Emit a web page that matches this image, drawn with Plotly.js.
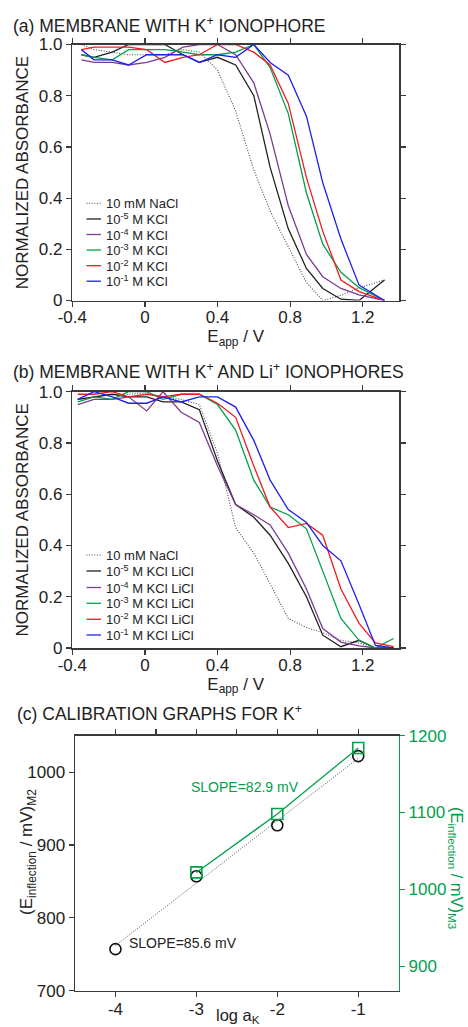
<!DOCTYPE html>
<html><head><meta charset="utf-8">
<script src="https://cdn.plot.ly/plotly-3.0.1.min.js"></script>
<style>html,body{margin:0;padding:0;background:#fff}#chart{width:468px;height:1027px}</style>
</head><body><div id="chart"></div>
<script>
// ---------- data: panel (a) membrane with K+ ionophore ----------
const potentialA = [-0.35,-0.28,-0.18,-0.09,0.01,0.11,0.21,0.30,0.40,0.50,0.60,0.69,0.79,0.89,0.98,1.08,1.18,1.32];
const aNaCl = [1.00,0.98,0.97,0.96,0.96,0.96,0.98,0.97,0.90,0.74,0.51,0.35,0.21,0.07,0.00,0.02,0.05,0.08];
const aK5   = [0.96,0.95,0.97,1.00,1.00,1.00,0.96,0.93,0.95,0.92,0.80,0.52,0.28,0.125,0.047,0.005,0.00,0.08];
const aK4   = [0.94,0.93,0.93,0.92,0.93,0.95,0.99,1.00,1.00,0.96,0.85,0.65,0.37,0.18,0.093,0.047,0.022,0.00];
const aK3   = [0.96,0.95,0.94,0.98,0.98,0.98,0.97,0.96,0.96,0.97,1.00,0.91,0.73,0.42,0.22,0.11,0.05,0.00];
const aK2   = [0.98,0.99,0.99,0.99,0.98,0.93,0.95,0.96,1.00,1.00,0.97,0.92,0.77,0.48,0.27,0.08,0.035,0.00];
const aK1   = [0.98,0.94,0.94,0.92,0.96,0.96,0.96,0.93,0.96,0.95,1.00,0.93,0.88,0.72,0.46,0.24,0.06,0.00];
const legendA = ['10 mM NaCl','10<sup>-5</sup> M KCl','10<sup>-4</sup> M KCl','10<sup>-3</sup> M KCl','10<sup>-2</sup> M KCl','10<sup>-1</sup> M KCl'];

// ---------- data: panel (b) membrane with K+ and Li+ ionophores ----------
const potentialB = [-0.37,-0.28,-0.18,-0.09,0.01,0.10,0.20,0.30,0.40,0.50,0.60,0.69,0.79,0.89,0.98,1.08,1.18,1.27,1.37];
const bNaCl = [0.97,0.98,0.99,0.99,0.995,0.98,0.97,0.95,0.76,0.47,0.37,0.25,0.115,0.08,0.06,0.03,0.02,0.00,0.00];
const bK5   = [0.97,0.98,0.99,0.98,0.98,0.96,0.96,0.93,0.73,0.56,0.51,0.44,0.33,0.20,0.05,0.005,0.03,0.00,0.00];
const bK4   = [0.95,0.97,0.97,0.98,0.925,1.00,0.92,0.88,0.71,0.56,0.52,0.48,0.37,0.23,0.076,0.023,0.008,0.00,0.00];
const bK3   = [0.96,0.98,0.97,1.00,1.00,0.97,0.99,0.99,0.95,0.85,0.655,0.55,0.52,0.465,0.30,0.115,0.03,0.00,0.037];
const bK2   = [0.99,0.99,1.00,0.98,0.99,0.98,0.99,0.99,0.955,0.90,0.71,0.55,0.47,0.486,0.44,0.23,0.096,0.02,0.005];
const bK1   = [0.97,1.00,0.98,0.955,0.955,0.98,0.96,0.98,0.98,0.94,0.81,0.655,0.54,0.49,0.40,0.34,0.17,0.01,0.00];
const legendB = ['10 mM NaCl','10<sup>-5</sup> M KCl LiCl','10<sup>-4</sup> M KCl LiCl','10<sup>-3</sup> M KCl LiCl','10<sup>-2</sup> M KCl LiCl','10<sup>-1</sup> M KCl LiCl'];

// ---------- data: panel (c) calibration graphs ----------
const logAK = [-4,-3,-2,-1];
const eInflM2 = [757,857,927,1022];
const logAKM3 = [-3,-2,-1];
const eInflM3 = [1022,1098,1184];
const fitM2X = [-4,-1];
const fitM2Y = [762,1019];

// ---------- tick labels ----------
const tickValsE = [-0.4,0,0.4,0.8,1.2];
const tickTextE = ['-0.4','0','0.4','0.8','1.2'];
const tickValsAbs = [0,0.2,0.4,0.6,0.8,1.0];
const tickTextAbs = ['0','0.2','0.4','0.6','0.8','1.0'];
const tickValsLog = [-4,-3,-2,-1];
const tickTextLog = ['-4','-3','-2','-1'];
const tickValsTop = [-4,-3.5,-3,-2.5,-2,-1.5,-1];
const tickValsM2 = [700,800,900,1000];
const tickValsM3 = [900,1000,1100,1200];

// ---------- styles ----------
const W = 468, H = 1027;
const FONT = 'Liberation Sans, Arial, sans-serif';
const INK = '#222222';
const AX = '#3a3a3a';
const GREEN = '#00a14b';
const colors = ['#4a4a4a','#231f20','#7d3c92','#00a14b','#ed1c24','#1f1ff2'];
const dashes = ['1px,1.6px','solid','solid','solid','solid','solid'];
const widths = [1.1,1.3,1.3,1.3,1.3,1.3];
const px = v => v / W;
const py = v => 1 - v / H;

const traces = [];
function addPanel(xs, series, labels, xa, ya){
  series.forEach((ys,i)=>{
    traces.push({x: xs, y: ys, xaxis: xa, yaxis: ya, type:'scatter', mode:'lines', name: labels[i],
      showlegend:false, line:{color:colors[i], width:widths[i], dash:dashes[i]}, hoverinfo:'skip'});
  });
}
addPanel(potentialA, [aNaCl,aK5,aK4,aK3,aK2,aK1], legendA, 'x', 'y');
addPanel(potentialB, [bNaCl,bK5,bK4,bK3,bK2,bK1], legendB, 'x2', 'y2');

traces.push({x: fitM2X, y: fitM2Y, xaxis:'x3', yaxis:'y3', mode:'lines', showlegend:false,
  line:{color:'#555', width:1, dash:'1px,1.5px'}, hoverinfo:'skip'});
traces.push({x: logAK, y: eInflM2, xaxis:'x3', yaxis:'y3', mode:'markers', name:'M2', showlegend:false,
  marker:{symbol:'circle-open', size:11, color:'#111', line:{width:1.6}}});
traces.push({x: logAKM3, y: eInflM3, xaxis:'x3', yaxis:'y4', mode:'lines+markers', name:'M3', showlegend:false,
  line:{color:GREEN, width:1.3}, marker:{symbol:'square-open', size:11, color:GREEN, line:{width:1.6}}});
traces.push({x: [], y: [], xaxis:'x4', yaxis:'y3', mode:'markers', showlegend:false, hoverinfo:'skip'});

const tickFont = {family:FONT, size:17, color:INK};
const titleFont = {family:FONT, size:17, color:INK};
const baseAxis = {showline:true, linecolor:AX, linewidth:1.5, ticks:'outside', ticklen:5, tickwidth:1.2,
  tickcolor:AX, showgrid:false, zeroline:false, tickfont:tickFont, mirror:'ticks'};

const layout = {
  width: W, height: H, margin:{l:0,r:0,t:0,b:0}, paper_bgcolor:'#fff', plot_bgcolor:'#fff',
  font:{family:FONT, color:INK}, showlegend:false,
  xaxis: Object.assign({}, baseAxis, {domain:[px(72.3),px(399)], range:[-0.4,1.4], anchor:'y',
    tickvals:tickValsE, ticktext:tickTextE, ticklabelstandoff:-4,
    title:{text:'E<sub>app</sub> / V', font:titleFont, standoff:2}}),
  yaxis: Object.assign({}, baseAxis, {domain:[py(300.5),py(44.5)], range:[0,1], anchor:'x',
    tickvals:tickValsAbs, ticktext:tickTextAbs,
    title:{text:'NORMALIZED ABSORBANCE', font:titleFont, standoff:6}}),
  xaxis2: Object.assign({}, baseAxis, {domain:[px(72.3),px(399)], range:[-0.4,1.4], anchor:'y2',
    tickvals:tickValsE, ticktext:tickTextE, ticklabelstandoff:-4,
    title:{text:'E<sub>app</sub> / V', font:titleFont, standoff:2}}),
  yaxis2: Object.assign({}, baseAxis, {domain:[py(648),py(391.7)], range:[0,1], anchor:'x2',
    tickvals:tickValsAbs, ticktext:tickTextAbs,
    title:{text:'NORMALIZED ABSORBANCE', font:titleFont, standoff:6}}),
  xaxis3: Object.assign({}, baseAxis, {domain:[px(75),px(398.7)], range:[-4.5,-0.5], anchor:'y3', mirror:false,
    tickvals:tickValsLog, ticktext:tickTextLog, ticklabelstandoff:-3}),
  xaxis4: Object.assign({}, baseAxis, {domain:[px(75),px(398.7)], range:[-4.5,-0.5], anchor:'y3', mirror:false,
    overlaying:'x3', side:'top', tickvals:tickValsTop, showticklabels:false}),
  yaxis3: Object.assign({}, baseAxis, {domain:[py(990.7),py(735.7)], range:[700,1050], anchor:'x3', mirror:false,
    tickvals:tickValsM2}),
  yaxis4: Object.assign({}, baseAxis, {range:[868,1200], anchor:'x3', overlaying:'y3', side:'right', mirror:false,
    tickvals:tickValsM3, linecolor:GREEN, tickcolor:GREEN, tickfont:{family:FONT, size:17, color:GREEN}}),
  annotations: [], shapes: []
};

const ann = layout.annotations;
function txt(text, x, y, opts){
  ann.push(Object.assign({text, xref:'paper', yref:'paper', x:px(x), y:py(y), showarrow:false,
    xanchor:'left', yanchor:'middle', font:{family:FONT, size:17.5, color:INK}}, opts||{}));
}
txt('(a) MEMBRANE WITH K<sup>+</sup> IONOPHORE', 11, 25);
txt('(b) MEMBRANE WITH K<sup>+</sup> AND Li<sup>+</sup> IONOPHORES', 11, 371);
txt('(c) CALIBRATION GRAPHS FOR K<sup>+</sup>', 15, 713);
txt('SLOPE=82.9 mV', 245, 787, {xanchor:'center', font:{family:FONT, size:14, color:GREEN}});
txt('SLOPE=85.6 mV', 183, 943, {xanchor:'center', font:{family:FONT, size:14, color:INK}});
txt('(E<sub>inflection</sub> / mV)<sub>M2</sub>', 28, 852, {xanchor:'center', textangle:-90, borderpad:0, font:{family:FONT, size:17, color:INK}});
txt('(E<sub>inflection</sub> / mV)<sub>M3</sub>', 456, 868, {xanchor:'center', textangle:90, borderpad:0, font:{family:FONT, size:16.5, color:GREEN}});
txt('log a<sub>K</sub>', 238, 1016, {xanchor:'center', borderpad:0, font:{family:FONT, size:16.5, color:INK}});

// hand-drawn legends
function legend(labels, rows){
  labels.forEach((lab,i)=>{
    layout.shapes.push({type:'line', xref:'paper', yref:'paper', x0:px(86.5), x1:px(101), y0:py(rows[i]), y1:py(rows[i]),
      line:{color:colors[i], width:widths[i], dash:dashes[i]}});
    txt(lab, 104, rows[i], {font:{family:FONT, size:13, color:INK}});
  });
}
legend(legendA, [203.3,219,234.5,250,265.7,281.2]);
legend(legendB, [555,571,587.5,603.3,619.3,635]);

Plotly.newPlot('chart', traces, layout, {staticPlot:true, displayModeBar:false});
</script></body></html>
